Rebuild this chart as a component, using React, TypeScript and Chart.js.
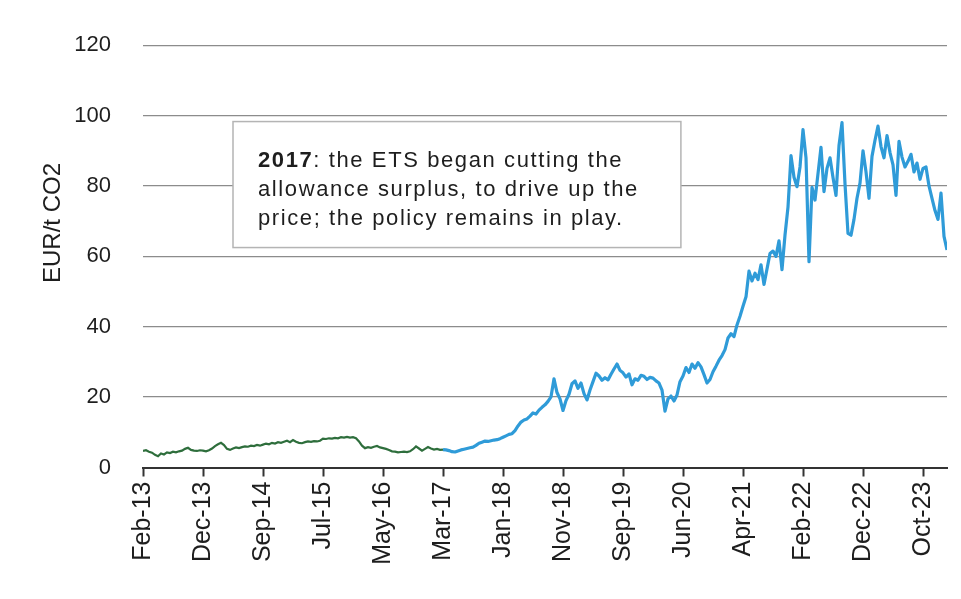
import { useEffect, useRef } from "react";
import { Chart, registerables } from "chart.js";

Chart.register(...registerables);

// Tick labels shown every POINTS_PER_TICK observations (trading-day style axis)
const tickLabels = [
  "Feb-13", "Dec-13", "Sep-14", "Jul-15", "May-16", "Mar-17", "Jan-18",
  "Nov-18", "Sep-19", "Jun-20", "Apr-21", "Feb-22", "Dec-22", "Oct-23",
];
const POINTS_PER_TICK = 20;

// EU ETS allowance price, EUR/t CO2 — period before the 2017 reform (index 0..100)
const preReformPrices = [
  4.7, 4.9, 4.5, 4.2, 3.6, 3.2, 4.0, 3.7, 4.3, 4.1,
  4.5, 4.3, 4.6, 4.8, 5.3, 5.6, 5.0, 4.8, 4.7, 4.9,
  4.8, 4.6, 4.9, 5.4, 6.1, 6.6, 7.0, 6.4, 5.3, 5.0,
  5.4, 5.7, 5.5, 5.8, 6.0, 5.9, 6.2, 6.1, 6.4, 6.2,
  6.5, 6.8, 6.6, 7.0, 6.8, 7.2, 7.0, 7.3, 7.6, 7.2,
  7.8, 7.3, 7.0, 6.9, 7.2, 7.4, 7.3, 7.5, 7.4, 7.6,
  8.2, 8.1, 8.3, 8.2, 8.4, 8.3, 8.6, 8.5, 8.7, 8.5,
  8.6, 8.3, 7.4, 6.2, 5.5, 5.8, 5.6, 5.9, 6.1, 5.7,
  5.5, 5.3, 5.0, 4.6, 4.5, 4.3, 4.4, 4.5, 4.4, 4.6,
  5.2, 6.0, 5.4, 4.8, 5.3, 5.8, 5.4, 5.1, 5.3, 5.0,
  5.1,
];

// Period after the reform, starting at index 100 (Mar-17)
const POST_REFORM_START = 100;
const postReformPrices = [
  5.1, 5.0, 4.8, 4.5, 4.4, 4.7, 5.0, 5.2, 5.4, 5.6,
  5.8, 6.3, 6.9, 7.2, 7.5, 7.4, 7.6, 7.8, 7.9, 8.2,
  8.6, 9.0, 9.4, 9.6, 10.5, 11.8, 12.9, 13.5, 13.8, 14.6,
  15.5, 15.2, 16.3, 17.1, 17.8, 18.8, 20.1, 25.2, 21.3, 19.5,
  16.2, 19.0, 20.8, 23.8, 24.6, 22.5, 24.0, 21.0, 19.2, 22.0,
  24.4, 26.8, 26.0, 24.8, 25.5, 24.9, 26.5, 28.0, 29.4, 27.6,
  26.9, 25.7, 26.6, 23.5, 25.2, 24.8, 26.2, 25.9, 25.0, 25.6,
  25.4, 24.6, 24.0, 22.0, 16.0, 19.5, 20.3, 18.9, 20.6, 24.4,
  26.0, 28.4, 27.0, 29.4, 28.2, 29.8, 28.6, 26.4, 24.0, 25.0,
  27.2, 28.8, 30.5, 31.8, 33.5, 36.8, 38.0, 37.2, 40.5, 43.0,
  45.8, 48.5, 55.8, 53.0, 55.2, 53.4, 57.6, 52.0, 56.4, 60.8,
  61.5, 60.0, 64.4, 56.2, 66.0, 74.0, 88.6, 82.5, 79.8, 85.4,
  96.0, 88.0, 58.5, 79.6, 76.0, 83.5, 91.0, 78.4, 85.0, 88.0,
  82.4, 77.3, 91.5, 98.0, 80.6, 66.5, 66.0, 70.5, 76.5, 80.8,
  90.0, 84.0, 76.5, 88.4, 93.0, 97.0, 91.2, 88.0, 94.3, 89.5,
  86.0, 77.3, 92.7, 88.2, 85.4, 87.0, 89.0, 84.0, 86.5, 81.9,
  85.0, 85.4, 80.0, 76.5, 73.0, 70.5, 78.0, 65.7, 61.8,
];

const X_MAX = POST_REFORM_START + postReformPrices.length - 1;

// Annotation text and its box (in data coordinates)
const noteBold = "2017";
const noteLines = [
  ": the ETS began cutting the",
  "allowance surplus, to drive up the",
  "price; the policy remains in play.",
];
const noteBox = { xFrom: 30, xTo: 179.3, yTop: 98.3, yBottom: 62.5 };

const FONT = "'Liberation Sans', Arial, Helvetica, sans-serif";
const TEXT_COLOR = "#1e1e1e";

const notePlugin = {
  id: "noteBox",
  beforeDatasetsDraw(chart: any) {
    const { ctx, scales } = chart;
    const x0 = scales.x.getPixelForValue(noteBox.xFrom);
    const x1 = scales.x.getPixelForValue(noteBox.xTo);
    const y0 = scales.y.getPixelForValue(noteBox.yTop);
    const y1 = scales.y.getPixelForValue(noteBox.yBottom);
    ctx.save();
    ctx.fillStyle = "#ffffff";
    ctx.fillRect(x0, y0, x1 - x0, y1 - y0);
    ctx.strokeStyle = "#b4b4b4";
    ctx.lineWidth = 1.5;
    ctx.strokeRect(x0, y0, x1 - x0, y1 - y0);
    try {
      (ctx as any).letterSpacing = "1.6px";
    } catch (e) {
      /* ignore */
    }
    ctx.fillStyle = TEXT_COLOR;
    ctx.textBaseline = "alphabetic";
    ctx.textAlign = "left";
    const tx = x0 + 25;
    const lineGap = 29;
    const firstBase = y0 + 45;
    ctx.font = `bold 22px ${FONT}`;
    ctx.fillText(noteBold, tx, firstBase);
    const bw = ctx.measureText(noteBold).width;
    ctx.font = `22px ${FONT}`;
    ctx.fillText(noteLines[0], tx + bw, firstBase);
    for (let i = 1; i < noteLines.length; i++) {
      ctx.fillText(noteLines[i], tx, firstBase + lineGap * i);
    }
    ctx.restore();
  },
};

export default function App() {
  const canvasRef = useRef<HTMLCanvasElement | null>(null);

  useEffect(() => {
    if (!canvasRef.current) return;
    const chart = new Chart(canvasRef.current, {
      type: "line",
      data: {
        datasets: [
          {
            label: "Before 2017",
            data: preReformPrices.map((v, i) => ({ x: i, y: v })),
            borderColor: "#2e6e3c",
            borderWidth: 2.2,
            pointRadius: 0,
            tension: 0,
          },
          {
            label: "After 2017",
            data: postReformPrices.map((v, i) => ({ x: POST_REFORM_START + i, y: v })),
            borderColor: "#2f9bd8",
            borderWidth: 3.2,
            pointRadius: 0,
            tension: 0,
            borderJoinStyle: "round",
          },
        ],
      },
      options: {
        animation: false,
        responsive: true,
        maintainAspectRatio: false,
        layout: { padding: { top: 21, right: 14, left: 0, bottom: 0 } },
        plugins: {
          legend: { display: false },
          tooltip: { enabled: false },
        },
        scales: {
          x: {
            type: "linear",
            min: 0,
            max: X_MAX,
            afterBuildTicks(scale: any) {
              scale.ticks = tickLabels.map((_, i) => ({ value: i * POINTS_PER_TICK }));
            },
            afterFit(scale: any) {
              scale.height = 131.5;
            },
            ticks: {
              autoSkip: false,
              minRotation: 90,
              maxRotation: 90,
              padding: 5,
              color: TEXT_COLOR,
              font: { family: FONT, size: 25 },
              callback: (value: any) => {
                const k = Math.round(Number(value) / POINTS_PER_TICK);
                return tickLabels[k] ?? "";
              },
            },
            grid: {
              drawOnChartArea: false,
              drawTicks: true,
              tickLength: 9,
              tickWidth: 2,
              tickColor: "#333333",
            },
            border: { display: true, color: "#333333", width: 2 },
          },
          y: {
            min: 0,
            max: 120,
            afterFit(scale: any) {
              scale.width = 143;
            },
            ticks: {
              stepSize: 20,
              padding: 32,
              color: TEXT_COLOR,
              font: { family: FONT, size: 22 },
            },
            grid: {
              color: "#8c8c8c",
              lineWidth: 1.3,
              drawTicks: false,
            },
            border: { display: false },
            title: {
              display: true,
              text: "          EUR/t CO2",
              color: TEXT_COLOR,
              font: { family: FONT, size: 24 },
              padding: { top: 38.6, bottom: 0 },
            },
          },
        },
      },
      plugins: [notePlugin],
    });
    return () => chart.destroy();
  }, []);

  return (
    <div
      style={{
        position: "fixed",
        left: 0,
        top: 0,
        width: 961,
        height: 599,
        background: "#ffffff",
      }}
    >
      <canvas ref={canvasRef} />
    </div>
  );
}
